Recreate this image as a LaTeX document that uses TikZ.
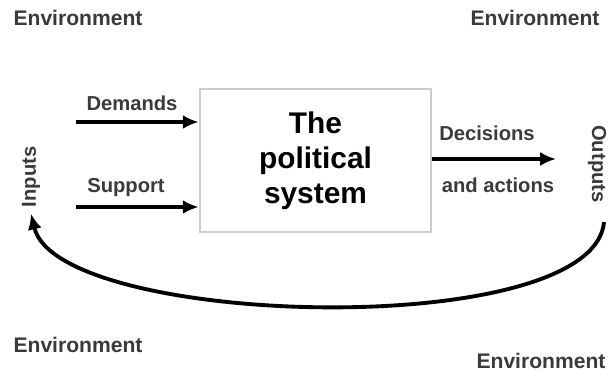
\documentclass[tikz,border=0pt]{standalone}
\usepackage{fontspec}
\setmainfont{Liberation Sans}
\usetikzlibrary{arrows.meta, positioning}
\usepackage{xcolor}

\definecolor{labelgray}{HTML}{3A3A3A}
\definecolor{boxgray}{HTML}{CCCCCC}

\begin{document}
\begin{tikzpicture}[
x=0.02cm, y=0.02cm,
env/.style={font=\fontsize{12}{14}\selectfont\bfseries, text=labelgray, inner sep=0pt},
lbl/.style={font=\fontsize{11.5}{14}\selectfont\bfseries, text=labelgray, inner sep=0pt},
sysbox/.style={draw=boxgray, line width=1.6pt, rectangle,
minimum width=4.62cm, minimum height=2.86cm, align=center,
font=\fontsize{17}{20}\selectfont\bfseries},
arrow/.style={-{Latex[length=9pt, width=8pt]}, line width=2.2pt}
]
\useasboundingbox (0,0) rectangle (610,372);

\node[env] (envtl) at (78,354) {Environment};
\node[env] (envtr) at (535,354) {Environment};
\node[env] (envbl) at (78,27) {Environment};
\node[env] (envbr) at (541,11) {Environment};

\node[sysbox] (system) at (315.5,211.5) {The\\political\\system};

\coordinate (demin) at (76,250);
\coordinate (supin) at (76,165);
\coordinate (decout) at (556,213);

\node[lbl] (demands) at (132,269) {Demands};
\node[lbl] (support) at (126,184) {Support};
\node[lbl] (decisions) at (487,239) {Decisions};
\node[lbl] (actions) at (498,187) {and actions};

\node[lbl, rotate=90] (inputs) at (31,195) {Inputs};
\node[lbl, rotate=-90] (outputs) at (597,208) {Outputs};

\draw[arrow] (demin) -- (demin -| system.west);
\draw[arrow] (supin) -- (supin -| system.west);
\draw[arrow] (system.east |- decout) -- (decout);
\draw[arrow] ([xshift=4pt, yshift=-0.38cm]outputs.east)
  .. controls +(-11,-120) and +(27,-114) .. ([yshift=-0.12cm]inputs.west);

\end{tikzpicture}
\end{document}
